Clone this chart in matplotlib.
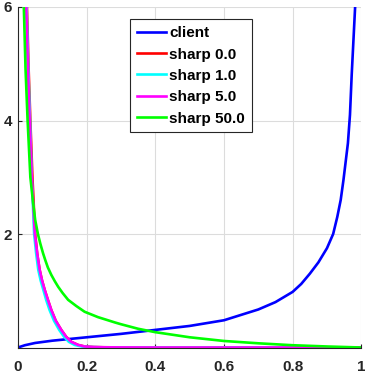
import matplotlib
matplotlib.use("Agg")
import matplotlib.pyplot as plt

plt.rcParams['font.family'] = ['Liberation Sans', 'DejaVu Sans']
plt.rcParams['font.weight'] = 'bold'
plt.rcParams['font.size'] = 11

# values
client_x = [0.0, 0.02, 0.05, 0.1, 0.2, 0.3, 0.4, 0.5, 0.6, 0.7, 0.75, 0.8, 0.825,
            0.85, 0.875, 0.9, 0.918, 0.93, 0.94, 0.948, 0.955, 0.961, 0.967, 0.972,
            0.977, 0.982, 0.99]
client_y = [0.0, 0.04, 0.08, 0.12, 0.18, 0.24, 0.31, 0.38, 0.48, 0.67, 0.8, 0.98, 1.12,
            1.3, 1.5, 1.75, 2.0, 2.3, 2.6, 2.95, 3.3, 3.6, 4.1, 4.8,
            5.4, 6.0, 7.5]

sharp5_x = [0.005, 0.01, 0.019, 0.024, 0.029, 0.034, 0.04, 0.049, 0.056, 0.063, 0.07,
            0.078, 0.087, 0.097, 0.11, 0.126, 0.14, 0.155, 0.175, 0.194, 0.22, 0.25,
            0.3, 0.4, 0.6, 1.0]
sharp5_y = [20, 12, 7.2, 6.0, 4.9, 4.0, 3.0, 2.0, 1.65, 1.37, 1.18,
            1.01, 0.84, 0.66, 0.47, 0.31, 0.19, 0.10, 0.045, 0.018, 0.008, 0.004,
            0.002, 0.0, 0.0, 0.0]

sharp0_x = [0.005, 0.011, 0.021, 0.026, 0.031, 0.036, 0.042, 0.05, 0.056, 0.063, 0.07,
            0.078, 0.087, 0.097, 0.11, 0.126, 0.14, 0.155, 0.175, 0.194, 0.22, 0.25,
            0.3, 0.4, 0.6, 1.0]
sharp0_y = [20, 12, 7.2, 6.0, 4.9, 4.0, 3.0, 2.0, 1.65, 1.37, 1.18,
            1.01, 0.84, 0.66, 0.47, 0.31, 0.19, 0.10, 0.045, 0.018, 0.008, 0.004,
            0.002, 0.0, 0.0, 0.0]

sharp1_x = [0.005, 0.011, 0.02, 0.025, 0.03, 0.035, 0.04, 0.047, 0.053, 0.059, 0.066,
            0.074, 0.082, 0.092, 0.105, 0.12, 0.134, 0.148, 0.165, 0.185, 0.21, 0.25,
            0.3, 0.4, 0.6, 1.0]
sharp1_y = [20, 12, 7.2, 6.0, 4.9, 4.0, 3.0, 2.0, 1.65, 1.37, 1.18,
            1.01, 0.84, 0.66, 0.47, 0.31, 0.19, 0.10, 0.045, 0.018, 0.008, 0.003,
            0.001, 0.0, 0.0, 0.0]

sharp50_x = [0.005, 0.01, 0.017, 0.022, 0.028, 0.036, 0.044, 0.05, 0.058, 0.065, 0.073,
             0.08, 0.087, 0.097, 0.107, 0.117, 0.13, 0.146, 0.17, 0.194, 0.233, 0.283,
             0.3, 0.35, 0.4, 0.5, 0.6, 0.7, 0.8, 0.9, 1.0]
sharp50_y = [20, 10, 6.0, 4.9, 4.0, 3.0, 2.55, 2.25, 2.0, 1.83, 1.66,
             1.53, 1.41, 1.28, 1.17, 1.07, 0.96, 0.84, 0.73, 0.63, 0.535, 0.44,
             0.41, 0.33, 0.27, 0.18, 0.115, 0.074, 0.04, 0.018, 0.0]

labels = ['client', 'sharp 0.0', 'sharp 1.0', 'sharp 5.0', 'sharp 50.0']
colors = ['#0000ff', '#ff0000', '#00ffff', '#ff00ff', '#00ff00']
xticks = [0, 0.2, 0.4, 0.6, 0.8, 1]
xticklabels = ['0', '0.2', '0.4', '0.6', '0.8', '1']
yticks = [2, 4, 6]

fig = plt.figure(figsize=(3.65, 3.75), dpi=100)
ax = fig.add_axes([18/365, 27.5/375, 343.3/365, 340.5/375])

series = [(client_x, client_y), (sharp0_x, sharp0_y), (sharp1_x, sharp1_y),
          (sharp5_x, sharp5_y), (sharp50_x, sharp50_y)]
for (xs, ys), lab, c in zip(series, labels, colors):
    ax.plot(xs, ys, color=c, lw=1.9, label=lab)

ax.set_xlim(0, 1)
ax.set_ylim(0, 6)
ax.set_xticks(xticks)
ax.set_xticklabels(xticklabels)
ax.set_yticks(yticks)
ax.grid(True, color='#dcdcdc', lw=0.8)
ax.set_axisbelow(True)
ax.spines['top'].set_visible(False)
ax.spines['right'].set_visible(False)
ax.spines['left'].set_color('#262626')
ax.spines['bottom'].set_color('#262626')
ax.tick_params(axis='both', direction='in', length=3, width=0.8, colors='#262626',
               labelsize=11)
ax.tick_params(axis='x', pad=9)
ax.tick_params(axis='y', pad=4.5)

leg = ax.legend(loc='upper left', bbox_to_anchor=(130/365, 1 - 19.3/375),
                bbox_transform=fig.transFigure, borderaxespad=0, fancybox=False,
                framealpha=1, edgecolor='#262626', handlelength=1.9, handletextpad=0.2,
                labelspacing=0.48, borderpad=0.45, fontsize=11)
leg.get_frame().set_linewidth(0.8)

fig.savefig('out.png', dpi=100)
